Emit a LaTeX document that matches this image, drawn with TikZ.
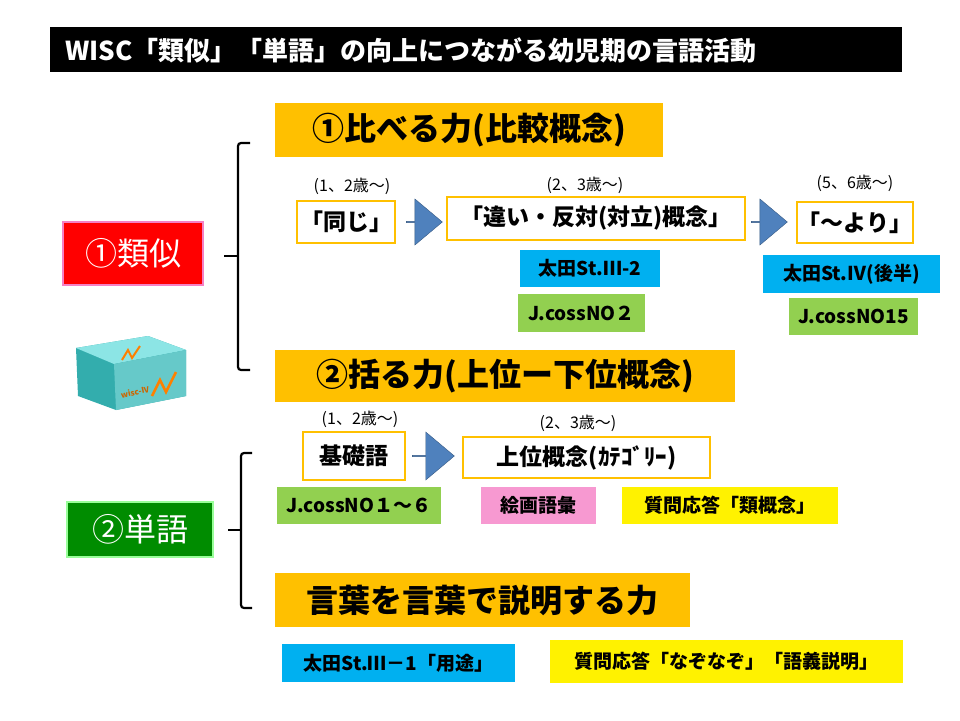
\documentclass[tikz,border=0pt]{standalone}
\usepackage{fontspec}
\setmainfont{Noto Sans CJK JP}
\usetikzlibrary{shapes.arrows}
\definecolor{org}{HTML}{FFC000}
\definecolor{sky}{HTML}{00B0F0}
\definecolor{lgr}{HTML}{92D050}
\definecolor{ablue}{HTML}{4F81BD}
\tikzset{
 bx/.style={inner sep=0pt,font=\bfseries\fontsize{#1}{#1}\selectfont},
 age/.style={font=\fontsize{16}{16}\selectfont},
 tag/.style={font=\bfseries\fontsize{19}{19}\selectfont},
 ow/.style={draw=org,line width=2.5pt,fill=white},
 barr/.style={single arrow,draw=ablue!70!black,fill=ablue,minimum height=36pt,minimum width=46pt,single arrow head extend=8pt,inner sep=0pt,single arrow tip angle=80},
 brk/.style={line width=2.2pt,rounded corners=3pt}
}
\newcommand{\bxat}[6]{% name, x1,y1,x2,y2, style
 \path[#6] (#2,#3) rectangle (#4,#5);
 \coordinate (#1) at ({(#2+#4)/2},{(#3+#5)/2});}
\begin{document}
\begin{tikzpicture}[x=1pt,y=-1pt]
\useasboundingbox[fill=white] (0,0) rectangle (960,720);
% title
\fill[black] (50,27) rectangle (902,72);
\node[text=white,anchor=west,font=\bfseries\fontsize{26}{26}\selectfont] (title) at (62,50) {WISC「類似」「単語」の向上につながる幼児期の言語活動};
% brackets
\draw[brk] (250,143) -- (238,143) -- (238,370) -- (250,370);
\draw[brk] (238,256) -- (224,256);
\draw[brk] (252,453) -- (241,453) -- (241,608) -- (252,608);
\draw[brk] (241,530) -- (228,530);
% left labels
\bxat{ruiji}{63}{222}{203}{285}{fill=red,draw=magenta!50,line width=2pt}
\node[text=white,font=\fontsize{32}{32}\selectfont] at (ruiji) {①類似};
\bxat{tango}{67}{502}{213}{557}{fill=green!55!black,draw=green!40,line width=1.5pt}
\node[text=white,font=\fontsize{32}{32}\selectfont] at (tango) {②単語};
% WISC box picture
\fill[teal!80!cyan!80] (76,348) -- (148,336) -- (186,350) -- (186,396) -- (116,410) -- (78,396) -- cycle;
\fill[teal!45!cyan!45] (76,348) -- (148,336) -- (186,350) -- (114,364) -- cycle;
\fill[teal!70!cyan!60] (114,364) -- (186,350) -- (186,396) -- (116,410) -- cycle;
\node[font=\bfseries\fontsize{8}{8}\selectfont,text=orange!80!black,rotate=12] (wisc) at (135,392) {wisc-IV};
\draw[orange,line width=2.5pt] (152,396) -- (160,380) -- (166,392) -- (176,372);
\draw[orange,line width=2pt] (122,360) -- (128,350) -- (132,358) -- (140,346);
% headers
\bxat{h1}{275}{103}{663}{157}{fill=org}
\node[bx=32] at (h1) {①比べる力(比較概念)};
\bxat{h2}{275}{350}{735}{402}{fill=org}
\node[bx=32] at (h2) {②括る力(上位ー下位概念)};
\bxat{h3}{275}{573}{690}{627}{fill=org}
\node[bx=32] at (h3) {言葉を言葉で説明する力};
% ages
\node[age] (a1) at (352,186) {(1、2歳～)};
\node[age] (a2) at (585,185) {(2、3歳～)};
\node[age] (a3) at (855,183) {(5、6歳～)};
\node[age] (a4) at (360,419) {(1、2歳～)};
\node[age] (a5) at (578,423) {(2、3歳～)};
% row 1
\bxat{b1}{297}{201}{395}{243}{ow}
\node[bx=23] at (b1) {「同じ」};
\bxat{b2}{447}{197}{745}{240}{ow}
\node[bx=23] at (b2) {「違い・反対(対立)概念」};
\bxat{b3}{797}{202}{913}{243}{ow}
\node[bx=23] at (b3) {「～より」};
\node[barr] (ar1) at (424,222) {};
\node[barr] (ar2) at (769,222) {};
\bxat{t1}{520}{250}{660}{287}{fill=sky}
\node[tag] at (t1) {太田St.Ⅲ-2};
\bxat{t2}{518}{294}{645}{332}{fill=lgr}
\node[tag] at (t2) {J.cossNO２};
\bxat{t3}{763}{255}{940}{293}{fill=sky}
\node[tag] at (t3) {太田St.Ⅳ(後半)};
\bxat{t4}{789}{298}{918}{335}{fill=lgr}
\node[tag] at (t4) {J.cossNO15};
% row 2
\bxat{c1}{303}{432}{405}{480}{ow}
\node[bx=23] at (c1) {基礎語};
\bxat{c2}{463}{437}{710}{478}{ow}
\node[bx=23] at (c2) {上位概念(ｶﾃｺﾞﾘｰ)};
\node[barr,minimum width=48pt,minimum height=42pt] (ar3) at (433,456) {};
\bxat{u1}{277}{487}{441}{524}{fill=lgr}
\node[tag] at (u1) {J.cossNO１～６};
\bxat{u2}{481}{487}{596}{524}{fill=magenta!40}
\node[tag] at (u2) {絵画語彙};
\bxat{u3}{622}{487}{838}{524}{fill=yellow}
\node[tag] at (u3) {質問応答「類概念」};
% row 3
\bxat{v1}{282}{644}{515}{682}{fill=sky}
\node[tag] at (v1) {太田St.Ⅲ－1「用途」};
\bxat{v2}{550}{640}{903}{683}{fill=yellow}
\node[tag] at (v2) {質問応答「なぞなぞ」「語義説明」};
\end{tikzpicture}
\end{document}
